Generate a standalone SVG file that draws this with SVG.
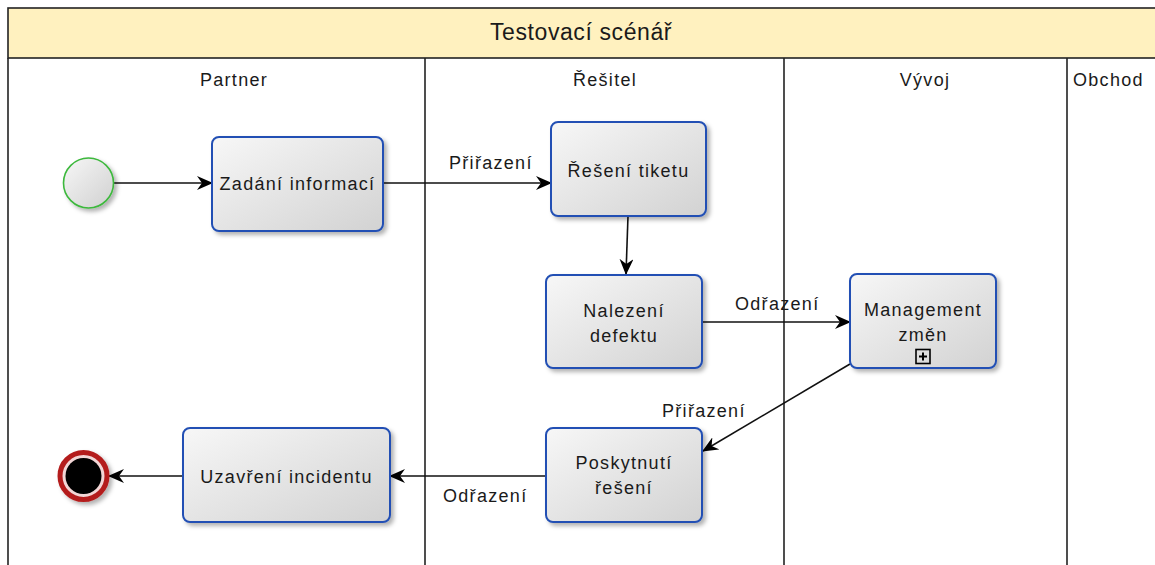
<svg xmlns="http://www.w3.org/2000/svg" width="1155" height="565" viewBox="0 0 1155 565">
<style>
text{font-family:"Liberation Sans",Arial,sans-serif;fill:#1a1a1a;}
.lbl{font-size:18px;letter-spacing:1.3px;}
.tt{font-size:18px;letter-spacing:1.3px;text-anchor:middle;}
.title{font-size:23px;letter-spacing:0.6px;text-anchor:middle;}
.lane{fill:none;stroke:#222;stroke-width:1.6;}
.task{fill:url(#tg);stroke:#2450b4;stroke-width:2;filter:url(#sh);}
.edge{fill:none;stroke:#111;stroke-width:1.6;marker-end:url(#ah);}
</style>
<defs>
<linearGradient id="tg" x1="0" y1="0" x2="1" y2="1">
<stop offset="0" stop-color="#f7f7f7"/>
<stop offset="1" stop-color="#d2d2d2"/>
</linearGradient>
<linearGradient id="cg" x1="0" y1="0" x2="1" y2="1">
<stop offset="0" stop-color="#f7f7f7"/>
<stop offset="1" stop-color="#d0d0d0"/>
</linearGradient>
<filter id="sh" x="-20%" y="-20%" width="150%" height="150%">
<feDropShadow dx="3" dy="3" stdDeviation="2" flood-color="#000" flood-opacity="0.3"/>
</filter>
<marker id="ah" viewBox="0 0 16 14" refX="15" refY="7" markerWidth="16" markerHeight="14" markerUnits="userSpaceOnUse" orient="auto">
<path d="M0,0 L16,7 L0,14 L5,7 z" fill="#000"/>
</marker>
</defs>
<g id="pool">
<rect x="8" y="8" width="1160" height="50" fill="#fff1bf" stroke="#222" stroke-width="1.6"/>
<text class="title" x="581" y="40">Testovací scénář</text>
<line class="lane" x1="8" y1="58" x2="8" y2="570"/>
<line class="lane" x1="425" y1="58" x2="425" y2="570"/>
<line class="lane" x1="784" y1="58" x2="784" y2="570"/>
<line class="lane" x1="1067" y1="58" x2="1067" y2="570"/>
<text class="tt" x="234" y="86">Partner</text>
<text class="tt" x="605" y="86">Řešitel</text>
<text class="tt" x="925" y="86">Vývoj</text>
<text class="lbl" x="1073" y="86">Obchod</text>
</g>
<g id="connectors">
<line class="edge" x1="114" y1="183" x2="212" y2="183"/>
<line class="edge" x1="383" y1="183" x2="551" y2="183"/>
<line class="edge" x1="628" y1="216" x2="626" y2="274"/>
<line class="edge" x1="702" y1="322" x2="850" y2="322"/>
<line class="edge" x1="850" y1="364" x2="703" y2="451"/>
<line class="edge" x1="546" y1="476" x2="390" y2="476"/>
<line class="edge" x1="183" y1="476" x2="109" y2="476"/>
<text class="lbl" x="449" y="169">Přiřazení</text>
<text class="lbl" x="735" y="310">Odřazení</text>
<text class="lbl" x="662" y="417">Přiřazení</text>
<text class="lbl" x="443" y="502">Odřazení</text>
</g>
<g id="start">
<circle cx="88.5" cy="183" r="25" fill="url(#cg)" stroke="#3cb83c" stroke-width="1.6" filter="url(#sh)"/>
</g>
<g id="zadani">
<rect class="task" x="212" y="137" width="171" height="94" rx="7"/>
<text class="tt" x="297.5" y="190">Zadání informací</text>
</g>
<g id="reseni-tiketu">
<rect class="task" x="551" y="122" width="155" height="94" rx="7"/>
<text class="tt" x="628.5" y="177">Řešení tiketu</text>
</g>
<g id="nalezeni">
<rect class="task" x="546" y="275" width="156" height="93" rx="7"/>
<text class="tt" x="624" y="317">Nalezení</text>
<text class="tt" x="624" y="342">defektu</text>
</g>
<g id="management">
<rect class="task" x="850" y="274" width="146" height="94" rx="7"/>
<text class="tt" x="923" y="316">Management</text>
<text class="tt" x="923" y="341">změn</text>
<rect x="916" y="349.5" width="14" height="14" fill="none" stroke="#000" stroke-width="1.6"/>
<path d="M923,352.5 V360.5 M919,356.5 H927" stroke="#000" stroke-width="2"/>
</g>
<g id="poskytnuti">
<rect class="task" x="546" y="428" width="156" height="94" rx="7"/>
<text class="tt" x="624" y="469">Poskytnutí</text>
<text class="tt" x="624" y="494">řešení</text>
</g>
<g id="uzavreni">
<rect class="task" x="183" y="428" width="207" height="94" rx="7"/>
<text class="tt" x="286.5" y="483">Uzavření incidentu</text>
</g>
<g id="end">
<circle cx="83.5" cy="476" r="23.5" fill="#f2d6d6" stroke="#b41e1e" stroke-width="5" filter="url(#sh)"/>
<circle cx="83.5" cy="476" r="18" fill="#000"/>
</g>
</svg>
